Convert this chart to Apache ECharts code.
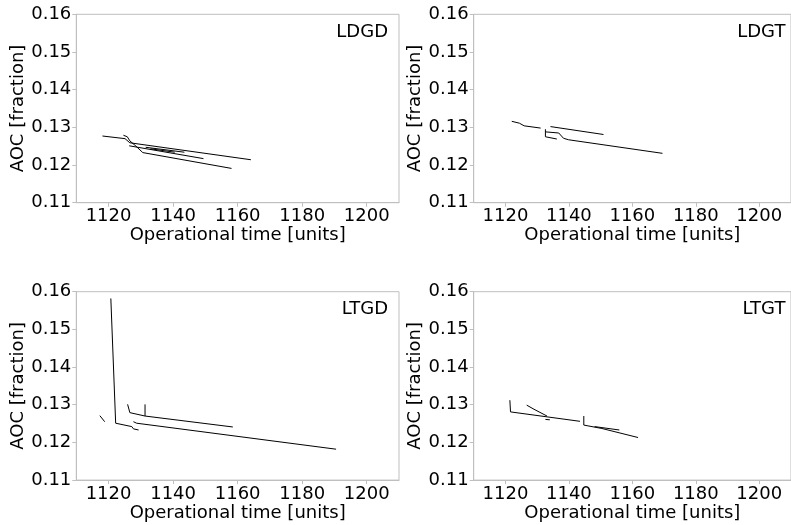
<!DOCTYPE html>
<html>
<head>
<meta charset="utf-8">
<script src="https://cdn.jsdelivr.net/npm/echarts@6/dist/echarts.min.js"></script>
<style>
  html, body { margin: 0; padding: 0; background: #fff; }
  #chart { width: 791px; height: 525px; }
</style>
</head>
<body>
<div id="chart"></div>
<script>
// tick labels
const xTicks = [1120, 1140, 1160, 1180, 1200];
const yTicks = [0.11, 0.12, 0.13, 0.14, 0.15, 0.16];
const panelNames = ['LDGD', 'LDGT', 'LTGD', 'LTGT'];

// LDGD traces [time, AOC]
const ldgd1 = [[1118.1, 0.1277], [1125.1, 0.1270], [1126.6, 0.1259], [1164.1, 0.1214]];
const ldgd2 = [[1124.6, 0.1279], [1125.8, 0.1275], [1126.6, 0.1264], [1128.5, 0.1250], [1130.6, 0.1233], [1158.1, 0.1191]];
const ldgd3 = [[1126.4, 0.1251], [1149.4, 0.1217]];
const ldgd4 = [[1131.5, 0.1247], [1143.5, 0.1234]];
const ldgd5 = [[1133.0, 0.1243], [1140.5, 0.1234]];

// LDGT traces
const ldgt1 = [[1122.0, 0.1316], [1124.4, 0.1311], [1125.9, 0.1304], [1131.1, 0.1298]];
const ldgt2 = [[1134.2, 0.1302], [1150.9, 0.1281]];
const ldgt3 = [[1132.6, 0.1295], [1132.6, 0.1275], [1136.2, 0.1269]];
const ldgt4 = [[1132.6, 0.1288], [1136.8, 0.1285], [1138.3, 0.1271], [1139.9, 0.1267], [1169.5, 0.1231]];

// LTGD traces
const ltgd1 = [[1120.7, 0.1582], [1122.2, 0.1251], [1127.2, 0.1242], [1127.7, 0.1236], [1129.3, 0.1233]];
const ltgd2 = [[1117.3, 0.1271], [1118.8, 0.1255]];
const ltgd3 = [[1125.9, 0.1301], [1126.6, 0.1279], [1131.3, 0.1270], [1158.5, 0.1241]];
const ltgd4 = [[1131.3, 0.1301], [1131.3, 0.1270]];
const ltgd5 = [[1127.7, 0.1255], [1128.7, 0.1251], [1190.5, 0.1182]];

// LTGT traces
const ltgt1 = [[1121.4, 0.1312], [1121.6, 0.1281], [1143.5, 0.1256]];
const ltgt2 = [[1126.7, 0.1299], [1129.0, 0.1288], [1133.1, 0.1270]];
const ltgt3 = [[1132.6, 0.1261], [1134.0, 0.1260]];
const ltgt4 = [[1144.7, 0.1270], [1144.7, 0.1246], [1150.4, 0.1237], [1161.8, 0.1213]];
const ltgt5 = [[1148.1, 0.1242], [1155.9, 0.1233]];

const panelLines = [
  [ldgd1, ldgd2, ldgd3, ldgd4, ldgd5],
  [ldgt1, ldgt2, ldgt3, ldgt4],
  [ltgd1, ltgd2, ltgd3, ltgd4, ltgd5],
  [ltgt1, ltgt2, ltgt3, ltgt4, ltgt5]
];

let chart = echarts.init(document.getElementById('chart'), null, { renderer: 'canvas' });

const FONT = 'DejaVu Sans';
const spine = '#bfbfbf';
const gw = 322.7, gh = 188.4;
const lefts = [76.3, 473.7];
const tops = [14.3, 291.7];

let grids = [], xAxes = [], yAxes = [], series = [], graphics = [];
panelLines.forEach((lines, i) => {
  let l = lefts[i % 2], t = tops[Math.floor(i / 2)];
  grids.push({
    left: l, top: t, width: gw, height: gh,
    show: true, borderColor: spine, borderWidth: 1
  });
  xAxes.push({
    gridIndex: i, type: 'value', min: 1110, max: 1210,
    name: 'Operational time [units]', nameLocation: 'middle', nameGap: 24,
    nameTextStyle: { fontFamily: FONT, fontSize: 18, color: '#000' },
    axisLine: { show: true, lineStyle: { color: spine, width: 1 } },
    axisTick: { show: true, length: 4, lineStyle: { color: spine }, customValues: xTicks },
    axisLabel: {
      fontFamily: FONT, fontSize: 18, color: '#000', margin: 5, customValues: xTicks,
      formatter: v => String(v)
    },
    splitLine: { show: false }
  });
  yAxes.push({
    gridIndex: i, type: 'value', min: 0.11, max: 0.16,
    name: 'AOC [fraction]', nameLocation: 'middle', nameGap: 41,
    nameTextStyle: { fontFamily: FONT, fontSize: 18, color: '#000' },
    axisLine: { show: true, lineStyle: { color: spine, width: 1 } },
    axisTick: { show: true, length: 4, lineStyle: { color: spine }, customValues: yTicks },
    axisLabel: {
      fontFamily: FONT, fontSize: 18, color: '#000', margin: 5, customValues: yTicks,
      formatter: v => v.toFixed(2)
    },
    splitLine: { show: false }
  });
  lines.forEach(d => {
    series.push({
      type: 'line', xAxisIndex: i, yAxisIndex: i, data: d,
      showSymbol: false, symbol: 'none', silent: true,
      lineStyle: { color: '#000', width: 1 }
    });
  });
  // panel label, top right inside the axes
  graphics.push({
    type: 'text', right: 791 - (l + gw - 11), top: t + 9,
    style: { text: panelNames[i], font: '18px "DejaVu Sans"', fill: '#000' }
  });
});

let option = {
  animation: false,
  backgroundColor: '#fff',
  grid: grids,
  xAxis: xAxes,
  yAxis: yAxes,
  series: series,
  graphic: graphics
};
chart.setOption(option);
</script>
</body>
</html>
